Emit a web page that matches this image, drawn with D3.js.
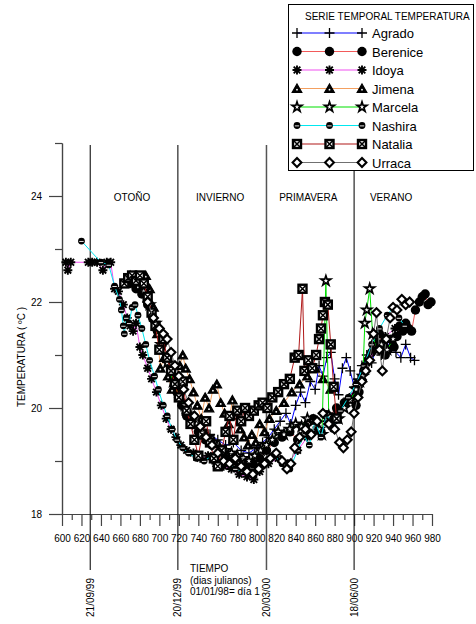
<!DOCTYPE html>
<head>
  <meta charset="utf-8">
  <script src="https://d3js.org/d3.v7.min.js"></script>
  <style>
    body {
      margin: 0;
      background-color: #fff;
      font-family: "Liberation Sans", Arial, sans-serif;
    }
    .axis path, .axis line {
      stroke: #444;
      stroke-width: 1.2;
    }
    .axis text {
      font-size: 10px;
      fill: #000;
    }
  </style>
</head>

<body>
  <div id="chart"></div>
  <script>
    // series : [julian day, temperature]
    var agrado = [[712,20.5],[720,20.2],[728,19.9],[736,19.75],[744,19.6],[752,19.5],[760,19.4],[768,19.3],[776,19.35],[784,19.2],[792,19.15],[800,19.25],[806,19.35],[812,19.45],[818,19.6],[824,19.75],[830,19.9],[835,19.7],[840,20.05],[845,20.3],[850,20.1],[855,20.5],[860,20.35],[864,20.8],[868,20.6],[872,20.95],[876,21.05],[880,20.55],[884,20.25],[888,20.75],[892,20.95],[896,20.7],[900,20.4],[904,20.55],[908,20.8],[913,21.0],[918,20.85],[923,21.15],[928,21.0],[933,21.25],[938,21.15],[943,21.05],[948,20.95],[953,21.2],[958,20.95],[962,20.9]];
    var berenice = [[670,22.35],[676,22.25],[682,22.15],[688,21.95],[693,21.7],[698,21.45],[703,21.2],[708,20.95],[713,20.6],[718,20.3],[723,20.05],[728,19.85],[734,19.7],[740,19.55],[747,19.4],[754,19.3],[761,19.15],[768,19.05],[775,19.0],[782,18.95],[789,18.9],[796,18.95],[803,19.05],[810,19.2],[818,19.35],[826,19.45],[834,19.55],[842,19.4],[850,19.65],[858,19.8],[866,19.55],[874,19.85],[882,20.0],[890,20.1],[897,20.2],[902,20.05],[905,20.3],[910,20.7],[914,20.9],[918,21.05],[922,21.25],[926,21.4],[929,21.2],[932,21.0],[935,21.1],[938,21.3],[941,21.15],[944,21.35],[947,21.55],[950,21.45],[953,21.6],[956,21.5],[959,21.45],[963,21.85],[967,22.0],[970,22.1],[973,22.15],[976,21.95],[979,22.0]];
    var idoya = [[604,22.75],[606,22.6],[609,22.75],[627,22.75],[631,22.75],[636,22.75],[642,22.6],[646,22.75],[650,22.75],[654,22.25],[658,22.2],[663,21.95],[667,21.7],[670,21.55],[673,21.45],[676,21.6],[680,21.15],[683,21.0],[688,20.75],[692,20.55],[697,20.3],[702,20.05],[707,19.8],[712,19.6],[717,19.45],[722,19.3],[728,19.2],[735,19.15],[742,19.05],[750,19.1],[758,18.95],[766,18.9],[774,18.85],[782,18.75],[790,18.7],[797,18.65],[803,18.8],[812,18.95],[822,19.05],[832,18.95],[842,19.2],[852,19.45],[862,19.6],[872,19.75],[882,19.9],[892,20.1],[902,20.4],[912,20.8],[922,21.1],[932,21.35],[942,21.5]];
    var jimena = [[666,22.4],[670,22.5],[674,22.45],[678,22.3],[682,22.45],[686,22.5],[690,22.25],[694,21.9],[698,21.4],[701,20.75],[705,20.95],[709,20.6],[713,20.35],[717,20.5],[721,20.8],[724,21.0],[727,20.75],[731,20.55],[735,20.3],[739,20.05],[743,19.8],[747,20.2],[751,20.0],[755,20.35],[759,20.45],[763,20.1],[767,19.9],[771,19.7],[775,20.15],[779,19.85],[783,19.6],[787,19.45],[791,19.3],[795,19.5],[799,19.35],[803,19.7],[808,19.55],[813,19.8],[820,19.95],[828,20.1],[836,20.3],[844,20.45],[852,20.6],[860,20.75],[868,20.55],[876,20.35]];
    var marcela = [[684,22.2],[690,21.95],[696,21.6],[702,21.2],[708,20.85],[714,20.5],[720,20.25],[726,20.05],[732,19.85],[738,19.7],[744,19.55],[750,19.45],[756,19.35],[762,19.25],[768,19.2],[774,19.15],[780,19.1],[786,19.05],[792,19.0],[798,19.1],[804,19.2],[810,19.3],[816,19.4],[822,19.55],[828,19.5],[834,19.6],[840,19.7],[846,19.65],[852,19.8],[858,19.75],[864,19.6],[867,19.5],[871,22.4],[874,19.85],[878,19.7],[884,19.8],[890,20.0],[896,20.15],[902,20.35],[906,20.5],[909,20.6],[911,21.6],[913,21.85],[916,22.25],[919,21.4],[923,21.1],[928,21.2],[934,21.1],[940,21.3]];
    var nashira = [[620,23.15],[640,22.75],[648,22.7],[654,22.3],[659,22.05],[661,21.85],[663,21.55],[664,21.4],[666,21.7],[669,21.6],[672,21.9],[675,21.95],[678,21.75],[682,21.5],[686,21.2],[690,20.9],[695,20.6],[699,20.35],[704,20.05],[708,19.85],[713,19.6],[718,19.4],[724,19.25],[730,19.15],[738,19.05],[746,19.0],[754,19.1],[762,18.95],[770,19.0],[778,18.85],[786,18.8],[794,18.8],[802,18.9],[810,19.0],[818,19.1],[826,18.95],[834,18.85],[842,19.2],[848,19.5],[854,19.3],[860,19.75],[866,19.45],[872,19.9],[878,19.6],[886,19.95],[894,20.2],[902,20.45],[910,20.8],[918,21.2],[926,21.5],[934,21.75],[940,21.9],[946,21.7],[952,21.55]];
    var natalia = [[664,22.35],[668,22.45],[672,22.5],[676,22.4],[680,22.5],[684,22.35],[688,22.1],[692,21.8],[696,21.55],[700,21.1],[704,21.3],[708,20.95],[712,20.7],[716,20.45],[720,20.2],[724,20.5],[728,19.95],[732,19.7],[736,19.4],[740,19.1],[744,19.5],[748,19.75],[752,19.35],[756,19.05],[760,18.9],[764,19.2],[768,19.55],[772,19.85],[776,19.4],[780,19.95],[784,19.75],[788,20.0],[792,19.85],[797,19.95],[802,20.05],[806,20.1],[811,20.0],[816,20.2],[822,20.3],[828,20.45],[834,20.55],[839,20.95],[843,21.0],[847,22.25],[849,20.7],[853,20.9],[857,20.75],[861,21.0],[864,21.3],[866,21.5],[868,21.75],[870,22.0],[873,21.95],[876,21.2],[879,20.4],[882,19.8]];
    var urraca = [[688,22.0],[694,21.7],[700,21.5],[704,21.4],[708,21.3],[712,21.05],[716,20.8],[720,20.6],[725,20.35],[730,20.1],[736,19.85],[742,19.65],[748,19.45],[754,19.3],[760,19.15],[766,19.0],[772,18.95],[778,19.05],[784,18.9],[790,18.8],[796,18.75],[802,18.85],[808,18.95],[814,19.05],[820,19.15],[826,19.0],[831,18.85],[835,18.95],[839,19.25],[844,19.45],[850,19.6],[856,19.5],[862,19.75],[868,19.9],[874,19.7],[880,19.6],[885,19.35],[889,19.25],[893,19.4],[897,19.55],[900,19.9],[904,20.2],[908,20.5],[912,20.7],[916,20.9],[920,21.4],[923,21.8],[926,21.1],[929,20.7],[933,21.3],[937,21.7],[940,21.9],[944,21.85],[949,22.05],[953,21.95],[957,22.0]];

    var names = ['Agrado', 'Berenice', 'Idoya', 'Jimena', 'Marcela', 'Nashira', 'Natalia', 'Urraca'];
    var values = [agrado, berenice, idoya, jimena, marcela, nashira, natalia, urraca];
    var colors = ['#0000ff', '#f25a5a', '#f050f0', '#f4a060', '#00e000', '#00e8f0', '#b01818', '#707070'];
    var markers = ['plus', 'circle', 'asterisk', 'triangle', 'star', 'dot', 'squarex', 'diamond'];

    var dateDays = [629, 719, 810, 900];
    var dateLabels = ['21/09/99', '20/12/99', '20/03/00', '18/06/00'];
    var seasons = ['OTOÑO', 'INVIERNO', 'PRIMAVERA', 'VERANO'];
    var xMajor = d3.range(600, 981, 20);
    var xMinor = d3.range(610, 981, 20);
    var yMajor = [18, 20, 22, 24];
    var yMinor = [19, 21, 23, 25];

    var width = 476, height = 624;
    var svg = d3.select('#chart').append('svg')
      .attr('width', width)
      .attr('height', height);

    var x = d3.scaleLinear().domain([600, 980]).range([62, 432]);
    var y = d3.scaleLinear().domain([18, 25]).range([514, 143]);

    // axes
    svg.append('g').attr('class', 'axis')
      .attr('transform', 'translate(0,514)')
      .call(d3.axisBottom(x).tickValues(xMinor).tickSize(6).tickSizeOuter(0).tickFormat(''));
    svg.append('g').attr('class', 'axis')
      .attr('transform', 'translate(0,514)')
      .call(d3.axisBottom(x).tickValues(xMajor).tickSize(12).tickSizeOuter(0).tickPadding(9).tickFormat(d3.format('d')));
    svg.append('g').attr('class', 'axis')
      .attr('transform', 'translate(62,0)')
      .call(d3.axisLeft(y).tickValues(yMinor).tickSize(7).tickSizeOuter(0).tickFormat(''));
    svg.append('g').attr('class', 'axis')
      .attr('transform', 'translate(62,0)')
      .call(d3.axisLeft(y).tickValues(yMajor).tickSize(13).tickSizeOuter(0).tickPadding(7).tickFormat(d3.format('d')));

    svg.append('text')
      .attr('transform', 'translate(25,357) rotate(-90)')
      .attr('text-anchor', 'middle')
      .attr('font-size', '10px')
      .text('TEMPERATURA ( ºC )');

    var tiempo = svg.append('text')
      .attr('x', 190)
      .attr('font-size', '10px');
    ['TIEMPO', '(dias julianos)', '01/01/98= día 1'].forEach(function(t, i) {
      tiempo.append('tspan').attr('x', 190).attr('y', 572 + i * 11.7).text(t);
    });

    // season boundaries
    dateDays.forEach(function(d, i) {
      svg.append('line')
        .attr('x1', x(d)).attr('x2', x(d))
        .attr('y1', 145).attr('y2', 570)
        .attr('stroke', i == 2 ? '#555' : '#111')
        .attr('stroke-width', i == 2 ? 1.5 : 1.1);
      svg.append('text')
        .attr('transform', 'translate(' + x(d) + ',578) rotate(-90)')
        .attr('text-anchor', 'end')
        .attr('dy', '0.35em')
        .attr('font-size', '10px')
        .text(dateLabels[i]);
      var next = i < dateDays.length - 1 ? dateDays[i + 1] : 980;
      svg.append('text')
        .attr('x', x((d + next) / 2) - 2)
        .attr('y', 201)
        .attr('text-anchor', 'middle')
        .attr('font-size', '10px')
        .text(seasons[i]);
    });

    function drawMarker(g, type, px, py) {
      var m = g.append('g').attr('transform', 'translate(' + px + ',' + py + ')');
      if (type == 'plus') {
        m.append('path').attr('d', 'M-5,0H5M0,-5V5').attr('stroke', '#000').attr('stroke-width', 1.3);
      } else if (type == 'circle') {
        m.append('circle').attr('r', 4.7).attr('fill', '#000');
      } else if (type == 'asterisk') {
        m.append('path').attr('d', 'M-4.5,0H4.5M0,-4.5V4.5M-3.3,-3.3L3.3,3.3M-3.3,3.3L3.3,-3.3')
          .attr('stroke', '#000').attr('stroke-width', 1.9);
      } else if (type == 'triangle') {
        m.append('path').attr('d', 'M0,-4.5L4.8,3.8H-4.8Z').attr('fill', '#000').attr('stroke', '#000').attr('stroke-width', 1.2);
        m.append('circle').attr('cy', 1.2).attr('r', 0.9).attr('fill', '#fff');
      } else if (type == 'star') {
        m.append('path').attr('d', d3.symbol(d3.symbolStar, 30)()).attr('fill', '#fff').attr('stroke', '#000').attr('stroke-width', 1.7);
      } else if (type == 'dot') {
        m.append('circle').attr('r', 3.4).attr('fill', '#000');
        m.append('path').attr('d', 'M-2.2,0.4H2.2').attr('stroke', '#fff').attr('stroke-width', 0.9);
      } else if (type == 'squarex') {
        m.append('rect').attr('x', -4).attr('y', -4).attr('width', 8).attr('height', 8)
          .attr('fill', '#fff').attr('stroke', '#000').attr('stroke-width', 2.4);
        m.append('path').attr('d', 'M-3.5,-3.5L3.5,3.5M-3.5,3.5L3.5,-3.5').attr('stroke', '#000').attr('stroke-width', 1.6);
      } else if (type == 'diamond') {
        m.append('path').attr('d', 'M0,-4.4L4.4,0L0,4.4L-4.4,0Z').attr('fill', '#fff').attr('stroke', '#000').attr('stroke-width', 2.1);
      }
    }

    var line = d3.line().x(function(d) { return x(d[0]); }).y(function(d) { return y(d[1]); });

    // series
    var plot = svg.append('g');
    values.forEach(function(s, i) {
      plot.append('path')
        .datum(s)
        .attr('d', line)
        .attr('fill', 'none')
        .attr('stroke', colors[i])
        .attr('stroke-width', 1);
      s.forEach(function(d) {
        drawMarker(plot, markers[i], x(d[0]), y(d[1]));
      });
    });

    // legend
    var legend = svg.append('g');
    legend.append('rect')
      .attr('x', 288.5).attr('y', 4.5)
      .attr('width', 185).attr('height', 166)
      .attr('fill', '#fff').attr('stroke', '#000');
    legend.append('text')
      .attr('x', 305).attr('y', 20)
      .attr('font-size', '10px')
      .text('SERIE TEMPORAL TEMPERATURA');
    names.forEach(function(n, i) {
      var ly = 33 + i * 18.5;
      legend.append('line')
        .attr('x1', 297).attr('x2', 362)
        .attr('y1', ly).attr('y2', ly)
        .attr('stroke', colors[i]).attr('stroke-width', 1.2);
      [297, 329.5, 362].forEach(function(lx) {
        drawMarker(legend, markers[i], lx, ly);
      });
      legend.append('text')
        .attr('x', 372).attr('y', ly + 5)
        .attr('font-size', '13px')
        .text(n);
    });
  </script>
</body>
